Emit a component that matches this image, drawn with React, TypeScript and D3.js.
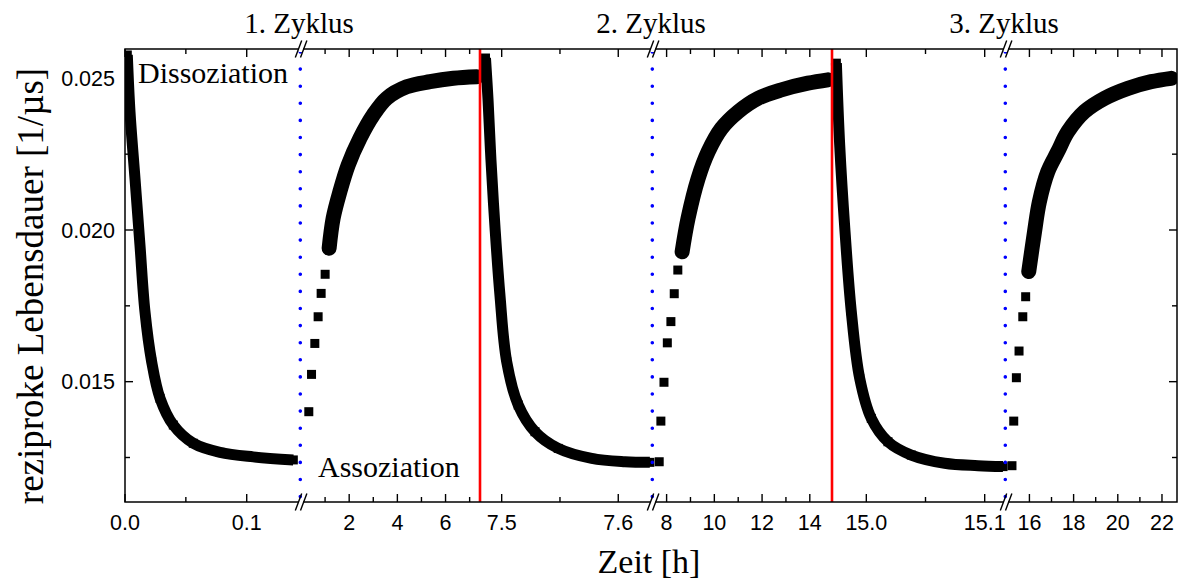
import React from "react";
import * as d3 from "d3";

const W = 1178;
const H = 581;

// ---- x-axis segments (broken axis) ----
const segStart = [0, 0, 7.4814, 7.43, 14.971, 14.94];
const segEnd = [0.1446, 7.43, 7.6298, 14.93, 15.118, 22.68];
const majorTicks = [[0, 0.1], [2, 4, 6], [7.5, 7.6], [8, 10, 12, 14], [15.0, 15.1], [16, 18, 20, 22]];
const minorTicks = [[0.05], [1, 3, 5, 7], [7.55], [9, 11, 13], [15.05], [17, 19, 21]];
const tickLabels = [["0.0", "0.1"], ["2", "4", "6"], ["7.5", "7.6"], ["8", "10", "12", "14"], ["15.0", "15.1"], ["16", "18", "20", "22"]];

// ---- y axis ----
const yMajor = [0.015, 0.02, 0.025];
const yMajorLabels = ["0.015", "0.020", "0.025"];
const yMinor = [0.0125, 0.0175, 0.0225];

const cycleLabels = ["1. Zyklus", "2. Zyklus", "3. Zyklus"];

// ---- data: Dissoziation (segments 1, 3, 5) ----
const dis1T = [0.0019, 0.0041, 0.0082, 0.0123, 0.0164, 0.0219, 0.0288, 0.0397, 0.0561, 0.0781, 0.1054, 0.1383];
const dis1V = [0.02577, 0.0239, 0.0217, 0.0195, 0.01731, 0.01566, 0.01445, 0.01357, 0.01297, 0.01267, 0.01252, 0.01242];

const dis2T = [7.4861, 7.4883, 7.4908, 7.4943, 7.4985, 7.5043, 7.5142, 7.5286, 7.5485, 7.5772, 7.6057, 7.6271];
const dis2V = [0.02567, 0.02429, 0.02231, 0.02007, 0.01786, 0.01566, 0.01423, 0.01335, 0.0128, 0.01247, 0.01236, 0.01234];

const dis3T = [14.9747, 14.9775, 14.9818, 14.9873, 14.9944, 15.0042, 15.0183, 15.038, 15.0662, 15.0943, 15.1155];
const dis3V = [0.0255, 0.0228, 0.02006, 0.01731, 0.01511, 0.01379, 0.01302, 0.01258, 0.01231, 0.01223, 0.0122];

// ---- data: Assoziation (segments 2, 4, 6) ----
const ass1SparseT = [0.324, 0.437, 0.574, 0.711, 0.836, 1.002];
const ass1SparseV = [0.01401, 0.01524, 0.01626, 0.01714, 0.01791, 0.01854];
const ass1T = [1.168, 1.335, 1.613, 1.958, 2.445, 2.998, 3.555, 4.387, 5.356, 6.324, 7.297];
const ass1V = [0.0194, 0.02039, 0.02126, 0.02214, 0.02302, 0.02379, 0.02434, 0.02472, 0.02489, 0.025, 0.02505];

const ass2SparseT = [7.69, 7.76, 7.89, 8.03, 8.18, 8.32, 8.47];
const ass2SparseV = [0.01236, 0.0137, 0.01498, 0.01628, 0.01698, 0.0179, 0.01868];
const ass2T = [8.65, 8.9, 9.32, 9.74, 10.3, 11.0, 11.83, 12.81, 13.92, 14.76];
const ass2V = [0.01928, 0.02039, 0.0217, 0.02258, 0.02335, 0.0239, 0.02434, 0.02462, 0.02484, 0.02495];

const ass3SparseT = [15.21, 15.29, 15.41, 15.53, 15.7, 15.83];
const ass3SparseV = [0.01223, 0.0137, 0.01513, 0.01601, 0.01714, 0.0178];
const ass3T = [15.97, 16.23, 16.45, 16.83, 17.28, 17.74, 18.49, 19.4, 20.46, 21.51, 22.42];
const ass3V = [0.01863, 0.01994, 0.02093, 0.02192, 0.02258, 0.02324, 0.0239, 0.02434, 0.02467, 0.02489, 0.025];

const SERIF = "'Liberation Serif', 'Times New Roman', serif";
const SANS = "'Liberation Sans', Arial, Helvetica, sans-serif";

export default function App() {
  const left = 125, right = 1177, top = 49, bottom = 502;
  const segPx = [125, 301, 480, 653, 832, 1006, 1177];
  const breakIdx = [1, 3, 5];
  const redIdx = [2, 4];

  const y = d3.scaleLinear().domain([0.011, 0.026]).range([503, 48]);
  const xs = segStart.map((s, i) =>
    d3.scaleLinear().domain([s, segEnd[i]]).range([segPx[i], segPx[i + 1]])
  );

  const zip = (t: number[], v: number[]) => t.map((d, i) => [d, v[i]] as [number, number]);

  const dense = [
    { seg: 0, pts: zip(dis1T, dis1V), w: 11, cap: "butt" },
    { seg: 2, pts: zip(dis2T, dis2V), w: 11, cap: "butt" },
    { seg: 4, pts: zip(dis3T, dis3V), w: 11, cap: "butt" },
    { seg: 1, pts: zip(ass1T, ass1V), w: 15, cap: "round" },
    { seg: 3, pts: zip(ass2T, ass2V), w: 15, cap: "round" },
    { seg: 5, pts: zip(ass3T, ass3V), w: 15, cap: "round" },
  ];
  const sparse = [
    { seg: 1, pts: zip(ass1SparseT, ass1SparseV) },
    { seg: 3, pts: zip(ass2SparseT, ass2SparseV) },
    { seg: 5, pts: zip(ass3SparseT, ass3SparseV) },
  ];

  const sq = 9;

  const breakMark = (x: number, yy: number, key: string) => (
    <g key={key}>
      <rect x={x - 2} y={yy - 3} width={4} height={6} fill="#fff" />
      <line x1={x - 2.5 - 3.2} y1={yy + 8.5} x2={x - 2.5 + 3.2} y2={yy - 8.5} stroke="#000" strokeWidth={1.4} />
      <line x1={x + 2.7 - 3.2} y1={yy + 8.5} x2={x + 2.7 + 3.2} y2={yy - 8.5} stroke="#000" strokeWidth={1.4} />
    </g>
  );

  return (
    <div style={{ position: "absolute", left: 0, top: 0 }}>
      <svg width={W} height={H} style={{ display: "block", background: "#fff" }}>
        <defs>
          <clipPath id="plotClip">
            <rect x={left} y={top} width={right - left} height={bottom - top} />
          </clipPath>
        </defs>

        {/* data */}
        <g clipPath="url(#plotClip)">
          {dense.map((s, i) => {
            const line = d3
              .line<[number, number]>()
              .x((d) => xs[s.seg](d[0]))
              .y((d) => y(d[1]))
              .curve(d3.curveCatmullRom.alpha(0.5));
            return (
              <g key={"d" + i}>
                <path d={line(s.pts) || ""} fill="none" stroke="#000" strokeWidth={s.w} strokeLinejoin="round" strokeLinecap={s.cap as any} />
                {s.pts.map((p, j) => (
                  <rect key={j} x={xs[s.seg](p[0]) - sq / 2} y={y(p[1]) - sq / 2} width={sq} height={sq} fill="#000" />
                ))}
              </g>
            );
          })}
          {sparse.map((s, i) => (
            <g key={"s" + i}>
              {s.pts.map((p, j) => (
                <rect key={j} x={xs[s.seg](p[0]) - sq / 2} y={y(p[1]) - sq / 2} width={sq} height={sq} fill="#000" />
              ))}
            </g>
          ))}
        </g>

        {/* red lines */}
        {redIdx.map((k) => (
          <line key={"r" + k} x1={segPx[k]} x2={segPx[k]} y1={top} y2={bottom} stroke="#ff0000" strokeWidth={2.6} />
        ))}

        {/* blue dotted lines */}
        {breakIdx.map((k) => (
          <line key={"b" + k} x1={segPx[k] - 0.7} x2={segPx[k] - 0.7} y1={top + 3} y2={bottom} stroke="#0000ff" strokeWidth={3.6} strokeDasharray="0 17.1" strokeLinecap="round" />
        ))}

        {/* frame */}
        <rect x={left} y={top} width={right - left} height={bottom - top} fill="none" stroke="#000" strokeWidth={1.5} />

        {/* x ticks (bottom & top, inward) */}
        {xs.map((sc, i) => (
          <g key={"xt" + i}>
            {majorTicks[i].map((t, j) => (
              <g key={"M" + j}>
                <line x1={sc(t)} x2={sc(t)} y1={bottom} y2={bottom - 8} stroke="#000" strokeWidth={1.4} />
                <line x1={sc(t)} x2={sc(t)} y1={top} y2={top + 8} stroke="#000" strokeWidth={1.4} />
                <text x={sc(t)} y={530} textAnchor="middle" fontFamily={SANS} fontSize={21.5} fill="#000">
                  {tickLabels[i][j]}
                </text>
              </g>
            ))}
            {minorTicks[i].map((t, j) => (
              <g key={"m" + j}>
                <line x1={sc(t)} x2={sc(t)} y1={bottom} y2={bottom - 5} stroke="#000" strokeWidth={1.4} />
                <line x1={sc(t)} x2={sc(t)} y1={top} y2={top + 5} stroke="#000" strokeWidth={1.4} />
              </g>
            ))}
          </g>
        ))}

        {/* y ticks */}
        {yMajor.map((v, j) => (
          <g key={"ym" + j}>
            <line x1={left} x2={left + 8} y1={y(v)} y2={y(v)} stroke="#000" strokeWidth={1.4} />
            <line x1={right} x2={right - 8} y1={y(v)} y2={y(v)} stroke="#000" strokeWidth={1.4} />
            <text x={115} y={y(v)} dy="0.36em" textAnchor="end" fontFamily={SANS} fontSize={21.5} fill="#000">
              {yMajorLabels[j]}
            </text>
          </g>
        ))}
        {yMinor.map((v, j) => (
          <g key={"yn" + j}>
            <line x1={left} x2={left + 5} y1={y(v)} y2={y(v)} stroke="#000" strokeWidth={1.4} />
            <line x1={right} x2={right - 5} y1={y(v)} y2={y(v)} stroke="#000" strokeWidth={1.4} />
          </g>
        ))}

        {/* break marks */}
        {breakIdx.map((k) => (
          <g key={"bm" + k}>
            {breakMark(segPx[k], top, "t" + k)}
            {breakMark(segPx[k], bottom, "b" + k)}
          </g>
        ))}

        {/* cycle labels */}
        {breakIdx.map((k, i) => (
          <text key={"c" + k} x={segPx[k] - 2} y={33} textAnchor="middle" fontFamily={SERIF} fontSize={29} fill="#000">
            {cycleLabels[i]}
          </text>
        ))}

        {/* annotations */}
        <text x={138} y={83} fontFamily={SERIF} fontSize={30} fill="#000">Dissoziation</text>
        <text x={318} y={477} fontFamily={SERIF} fontSize={30} fill="#000">Assoziation</text>

        {/* axis titles */}
        <text x={649} y={573} textAnchor="middle" fontFamily={SERIF} fontSize={34} fill="#000">Zeit [h]</text>
        <text transform={`translate(43,286) rotate(-90)`} textAnchor="middle" fontFamily={SERIF} fontSize={37} fill="#000">
          reziproke Lebensdauer [1/µs]
        </text>
      </svg>
    </div>
  );
}
